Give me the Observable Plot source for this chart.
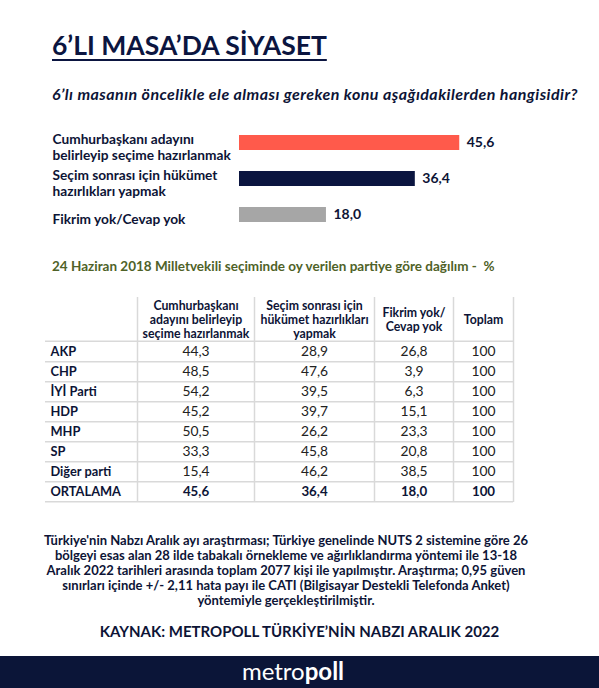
<!DOCTYPE html>
<html><head><meta charset="utf-8">
<script src="https://cdn.jsdelivr.net/npm/d3@7"></script>
<script src="https://cdn.jsdelivr.net/npm/@observablehq/plot@0.6"></script>
<style>
body{margin:0;background:#fff;}
#page{position:relative;width:599px;height:688px;overflow:hidden;font-family:Lato,"Open Sans",sans-serif;color:#0d1436;background:#fff;}
.abs{position:absolute;}
#title{left:52px;top:29px;font-size:26.5px;font-weight:700;color:#0b1540;text-decoration:underline;text-decoration-thickness:2px;text-underline-offset:4px;white-space:nowrap;}
#question{left:52px;top:84px;font-size:16px;letter-spacing:0.45px;font-weight:700;font-style:italic;white-space:nowrap;}
#sub{left:52px;top:258px;font-size:13.5px;font-weight:700;color:#4f6228;white-space:pre;}
#note{left:0;width:572px;top:533px;text-align:center;font-size:13px;font-weight:700;line-height:15px;}
#source{left:0;width:599px;top:622px;text-align:center;font-size:15px;font-weight:700;}
#band{left:0;top:656px;width:599px;height:32px;background:#0b1538;}
#brand{left:0;width:586px;top:658px;text-align:center;font-size:24px;color:#fff;line-height:26px;}
#bars{left:0;top:120px;}
#table{left:0;top:293px;}
</style></head><body>
<div id="page">
  <div id="title" class="abs">6’LI MASA’DA SİYASET</div>
  <div id="question" class="abs">6’lı masanın öncelikle ele alması gereken konu aşağıdakilerden hangisidir?</div>
  <div id="bars" class="abs"></div>
  <div id="sub" class="abs">24 Haziran 2018 Milletvekili seçiminde oy verilen partiye göre dağılım -  %</div>
  <div id="table" class="abs"></div>
  <div id="note" class="abs">Türkiye'nin Nabzı Aralık ayı araştırması; Türkiye genelinde NUTS 2 sistemine göre 26<br>bölgeyi esas alan 28 ilde tabakalı örnekleme ve ağırlıklandırma yöntemi ile 13-18<br>Aralık 2022 tarihleri arasında toplam 2077 kişi ile yapılmıştır. Araştırma; 0,95 güven<br>sınırları içinde +/- 2,11 hata payı ile CATI (Bilgisayar Destekli Telefonda Anket)<br>yöntemiyle gerçekleştirilmiştir.</div>
  <div id="source" class="abs">KAYNAK: METROPOLL TÜRKİYE’NİN NABZI ARALIK 2022</div>
  <div id="band" class="abs"></div>
  <div id="brand" class="abs">metro<b>poll</b></div>
</div>
<script>
// ---- data ----
const answers = ["Cumhurbaşkanı adayını\nbelirleyip seçime hazırlanmak", "Seçim sonrası için hükümet\nhazırlıkları yapmak", "Fikrim yok/Cevap yok"];
const shares = [45.6, 36.4, 18.0];
const barColors = ["#ff5a4b", "#0b1540", "#a6a6a6"];

const parties = ["AKP", "CHP", "İYİ Parti", "HDP", "MHP", "SP", "Diğer parti", "ORTALAMA"];
const colHeaders = ["Cumhurbaşkanı\nadayını belirleyip\nseçime hazırlanmak", "Seçim sonrası için\nhükümet hazırlıkları\nyapmak", "Fikrim yok/\nCevap yok", "Toplam"];
const candidateCol = [44.3, 48.5, 54.2, 45.2, 50.5, 33.3, 15.4, 45.6];
const governmentCol = [28.9, 47.6, 39.5, 39.7, 26.2, 45.8, 46.2, 36.4];
const noOpinionCol = [26.8, 3.9, 6.3, 15.1, 23.3, 20.8, 38.5, 18.0];
const totalCol = [100, 100, 100, 100, 100, 100, 100, 100];

// ---- helpers ----
const fmt1 = v => v.toFixed(1).replace(".", ",");
const ink = "#0d1436";
const font = "Lato, 'Open Sans', sans-serif";

// ---- bar chart ----
const barData = answers.map((a, i) => ({answer: a, value: shares[i]}));
const bars = Plot.plot({
  width: 599, height: 120,
  marginLeft: 239, marginRight: 118.5, marginTop: 4.5, marginBottom: 7.5,
  x: {domain: [0, 50], axis: null},
  y: {type: "band", domain: answers, axis: null, paddingInner: 0.583, paddingOuter: 0.2915},
  color: {domain: answers, range: barColors},
  style: {fontFamily: font, background: "transparent", overflow: "visible"},
  marks: [
    Plot.barX(barData, {x: "value", y: "answer", fill: "answer"}),
    Plot.text(barData, {x: "value", y: "answer", text: d => fmt1(d.value), textAnchor: "start", dx: 7, fontWeight: "bold", fontSize: 14, fill: ink}),
    Plot.text(barData, {y: "answer", frameAnchor: "left", text: "answer", textAnchor: "start", dx: -187, dy: 4, lineHeight: 1.12, fontWeight: "bold", fontSize: 13.7, fill: ink})
  ]
});
document.getElementById("bars").appendChild(bars);

// ---- table ----
const colWidths = [92, 117, 120, 79, 60]; // layout: label column + 4 value columns
const edges = [0];
colWidths.forEach(w => edges.push(edges[edges.length - 1] + w));
const centers = colWidths.slice(1).map((w, j) => (edges[j + 1] + edges[j + 2]) / 2);
const columns = [candidateCol, governmentCol, noOpinionCol, totalCol];
const cells = [];
parties.forEach((p, i) => columns.forEach((col, j) => cells.push({party: p, col: j, value: col[i]})));
const cellText = d => d.col === 3 ? String(d.value) : fmt1(d.value);
const rowStep = 163 / parties.length;
const grid = "#d9d9d9";
const tableW = edges[edges.length - 1];

const table = Plot.plot({
  width: 599, height: 215,
  marginLeft: 45, marginRight: 86, marginTop: 46, marginBottom: 6,
  x: {domain: [0, tableW], axis: null},
  y: {type: "band", domain: parties, axis: null, padding: 0},
  style: {fontFamily: font, background: "transparent", overflow: "visible"},
  marks: [
    Plot.barX(parties, {x1: 0, x2: tableW, y: d => d, fill: "none"}),
    Plot.ruleY(parties, {y: d => d, x1: 0, x2: tableW, dy: rowStep / 2, stroke: grid, strokeWidth: 1.5}),
    Plot.ruleY([parties[0]], {y: d => d, x1: 0, x2: tableW, dy: -rowStep / 2, stroke: grid, strokeWidth: 1.5}),
    Plot.ruleX(edges.slice(1), {x: d => d, insetTop: -42, stroke: grid, strokeWidth: 1.5}),
    Plot.text(colHeaders, {x: (d, i) => centers[i], frameAnchor: "top", text: d => d, dy: -20, lineAnchor: "middle", lineHeight: 1.12, fontWeight: "bold", fontSize: 12.3, fill: ink}),
    Plot.text(parties, {x: 0, y: d => d, text: d => d, textAnchor: "start", dx: 5, fontWeight: "bold", fontSize: 12.8, fill: ink}),
    Plot.text(cells.filter(d => d.party !== "ORTALAMA"), {x: d => centers[d.col], y: "party", text: cellText, fontSize: 13.8, fill: "#222"}),
    Plot.text(cells.filter(d => d.party === "ORTALAMA"), {x: d => centers[d.col], y: "party", text: cellText, fontSize: 13.3, fontWeight: "bold", fill: ink})
  ]
});
document.getElementById("table").appendChild(table);
</script>
</body></html>
